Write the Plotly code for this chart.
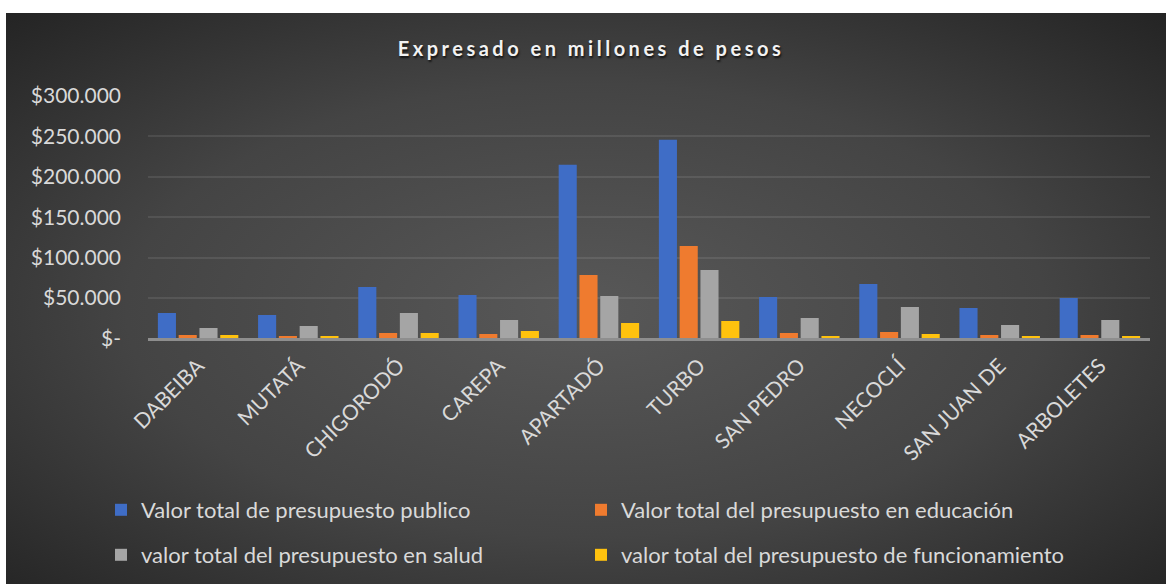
import base64
import plotly.graph_objects as go

categories = ["DABEIBA", "MUTATÁ", "CHIGORODÓ", "CAREPA", "APARTADÓ",
              "TURBO", "SAN PEDRO", "NECOCLÍ", "SAN JUAN DE", "ARBOLETES"]

publico = [31400, 28900, 63600, 53700, 214900, 245800, 51200, 67300, 37600, 50000]
educacion = [4000, 2900, 6600, 5300, 78500, 114400, 6600, 7800, 4000, 4000]
salud = [12800, 15200, 31400, 22700, 52400, 84700, 25200, 38800, 16500, 22700]
funcionamiento = [4000, 2900, 6600, 9000, 19000, 21500, 2900, 5300, 2900, 2900]

series_names = ["Valor total de presupuesto publico",
                "Valor total del presupuesto en educación",
                "valor total del presupuesto en salud",
                "valor total del presupuesto de funcionamiento"]

tick_vals = [0, 50000, 100000, 150000, 200000, 250000, 300000]
tick_text = ["$-", "$50.000", "$100.000", "$150.000", "$200.000", "$250.000", "$300.000"]

colors = ["#3f6dc6", "#ef7b2f", "#a5a5a5", "#ffc20e"]
legend_ids = ["legend", "legend2", "legend3", "legend4"]
# legend text start (px) and row centre (px)
legend_pos = [(101, 510), (581, 510), (101, 555), (581, 555)]

W, H = 1166, 584
FONT = "Lato"

fig = go.Figure()
for name, vals, col, lg in zip(series_names, [publico, educacion, salud, funcionamiento], colors, legend_ids):
    fig.add_trace(go.Bar(x=categories, y=vals, name=name, marker=dict(color=col, line=dict(width=0)),
                         legend=lg))

svg = '''<svg xmlns="http://www.w3.org/2000/svg" width="1160" height="571" viewBox="0 0 1160 571" preserveAspectRatio="none">
<defs><radialGradient id="g" cx="50%" cy="52%" r="72%">
<stop offset="0" stop-color="#585858"/><stop offset="0.55" stop-color="#444444"/><stop offset="1" stop-color="#242424"/>
</radialGradient></defs><rect width="1160" height="571" fill="url(#g)"/></svg>'''
src = "data:image/svg+xml;base64," + base64.b64encode(svg.encode()).decode()

legend_layout = {}
for lg, (lx, ly) in zip(legend_ids, legend_pos):
    legend_layout[lg] = dict(orientation="h", xref="container", yref="container",
                             x=lx / W, xanchor="left", y=1 - ly / H, yanchor="middle",
                             font=dict(family=FONT, size=22, color="#d9d9d9"),
                             bgcolor="rgba(0,0,0,0)")

fig.update_layout(
    width=W, height=H,
    margin=dict(l=0, r=0, t=0, b=0, pad=0, autoexpand=False),
    paper_bgcolor="white",
    plot_bgcolor="rgba(0,0,0,0)",
    images=[dict(source=src, xref="paper", yref="paper", x=6 / W, y=1 - 13 / H,
                 sizex=1 - 6 / W, sizey=1 - 13 / H, xanchor="left", yanchor="top",
                 sizing="stretch", layer="below")],
    barmode="group", bargap=0.17, bargroupgap=0.13,
    title=dict(text="<span style='letter-spacing:3.5px'>Expresado en millones de pesos</span>",
               x=591 / W, xanchor="center", y=1 - 49 / H, yanchor="middle", xref="container", yref="container",
               font=dict(family=FONT, size=20, color="#f2f2f2", weight="bold",
                         shadow="1px 2px 2px rgba(0,0,0,0.7)")),
    xaxis=dict(domain=[148 / W, 1150 / W], tickangle=-45, showgrid=False, automargin=False,
               showline=True, linecolor="#8e8e8e", linewidth=3, ticks="",
               ticklabelstandoff=4,
               tickfont=dict(family=FONT, size=21, color="#d9d9d9")),
    yaxis=dict(domain=[(H - 338.3) / H, (H - 96) / H], range=[0, 300000], automargin=False,
               tickvals=tick_vals, ticktext=tick_text, showline=False, zeroline=False,
               gridcolor="rgba(255,255,255,0.09)", gridwidth=2, ticks="",
               ticklabelstandoff=26,
               tickfont=dict(family=FONT, size=21, color="#d9d9d9")),
    showlegend=True,
    **legend_layout,
)

fig.write_html("out.html", config={"displayModeBar": False},
               post_script="document.body.style.margin='0';document.body.style.overflow='hidden';")
